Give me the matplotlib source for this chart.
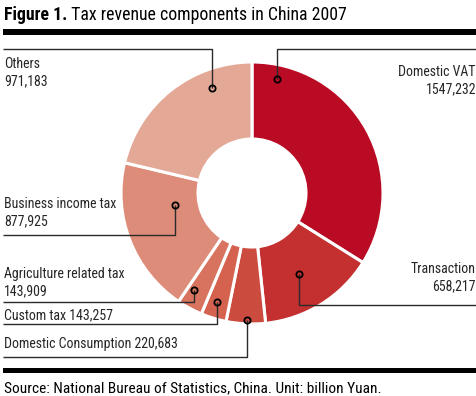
import matplotlib
matplotlib.use("Agg")
import matplotlib.pyplot as plt
from matplotlib.patches import Rectangle

# 2007 tax revenue components (billion Yuan)
labels = ["Domestic VAT", "Transaction", "Domestic Consumption", "Custom tax",
          "Agriculture related tax", "Business income tax", "Others"]
values = [1547232, 658217, 220683, 143257, 143909, 877925, 971183]
value_text = ["1547,232", "658,217", "220,683", "143,257", "143,909", "877,925", "971,183"]
colors = ["#BA0B25", "#C3302F", "#CC4B3F", "#D4624F", "#D8735F", "#DE8C7A", "#E4A996"]

W, H = 477, 396
FONT = ["Roboto Condensed", "DejaVu Sans"]
LINE = "#2b2b2b"
TXT = "#262626"


def py(y):
    # pixel rows are measured from the top
    return H - y


fig = plt.figure(figsize=(W / 100, H / 100), dpi=100)
ax = fig.add_axes([0, 0, 1, 1])

ax.pie(values, startangle=90, counterclock=False, radius=131, center=(252, py(193)),
       colors=colors, wedgeprops=dict(width=77, edgecolor="white", linewidth=2.2))
ax.set_xlim(0, W)
ax.set_ylim(0, H)
ax.set_aspect("equal")
ax.axis("off")

# header and footer bars
ax.add_patch(Rectangle((3, py(35)), W - 3, 6.5, color="black", lw=0))
ax.add_patch(Rectangle((3, py(373)), W - 3, 5, color="black", lw=0))

t1 = ax.text(4, py(20), "Figure 1.", fontsize=12.8, fontweight="bold",
             family=FONT, va="baseline", ha="left", color="black")
ax.annotate(" Tax revenue components in China 2007", xy=(1, 0), xycoords=t1,
            fontsize=12.8, family=FONT, va="bottom", ha="left", color="black")
ax.text(4, py(392), "Source: National Bureau of Statistics, China. Unit: billion Yuan.",
        fontsize=11.1, family=FONT, va="baseline", ha="left", color="black")

# leader lines: marker point, elbow and end point (pixel coords)
leaders = {
    "Domestic VAT": [(277, 79), (277, 49), (477, 49)],
    "Transaction": [(299, 274), (299, 305), (477, 305)],
    "Domestic Consumption": [(247, 320), (247, 357), (3, 357)],
    "Custom tax": [(217, 302), (217, 324), (3, 324)],
    "Agriculture related tax": [(194, 290), (194, 302), (3, 302)],
    "Business income tax": [(175, 205), (175, 235), (3, 235)],
    "Others": [(212, 88), (212, 49), (3, 49)],
}
for name, pts in leaders.items():
    xs = [p[0] for p in pts]
    ys = [py(p[1]) for p in pts]
    ax.plot(xs, ys, color=LINE, lw=1, solid_capstyle="butt")
    ax.plot(xs[0], ys[0], "o", ms=4.5, mfc="none", mec="black", mew=1.3)

fs = 10
lab = dict(zip(labels, value_text))
common = dict(fontsize=fs, family=FONT, color=TXT, linespacing=1.3)
ax.text(476, py(81), "Domestic VAT\n" + lab["Domestic VAT"], ha="right", va="center",
        multialignment="right", **common)
ax.text(476, py(278), "Transaction\n" + lab["Transaction"], ha="right", va="center",
        multialignment="right", **common)
ax.text(4, py(73), "Others\n" + lab["Others"], ha="left", va="center", **common)
ax.text(4, py(213), "Business income tax\n" + lab["Business income tax"],
        ha="left", va="center", **common)
ax.text(4, py(283), "Agriculture related tax\n" + lab["Agriculture related tax"],
        ha="left", va="center", **common)
ax.text(4, py(315), "Custom tax " + lab["Custom tax"], ha="left", va="center", **common)
ax.text(4, py(344), "Domestic Consumption " + lab["Domestic Consumption"],
        ha="left", va="center", **common)

fig.savefig("out.png", dpi=100)
